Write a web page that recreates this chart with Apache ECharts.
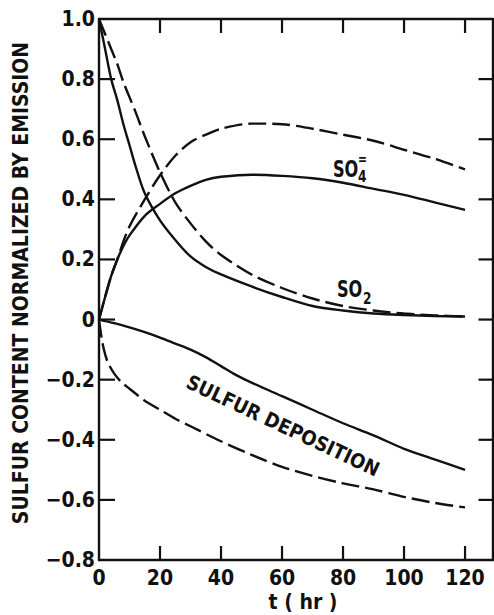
<!DOCTYPE html>
<html><head><meta charset="utf-8">
<script src="https://cdn.jsdelivr.net/npm/echarts@6/dist/echarts.min.js"></script>
<style>html,body{margin:0;padding:0;background:#fff}#c{width:494px;height:615px}</style>
</head><body><div id="c"></div>
<script>
// ---- data (t in hours, values normalized by emission) ----
const xTicks = [0, 20, 40, 60, 80, 100, 120];
const yTicks = [-0.8, -0.6, -0.4, -0.2, 0, 0.2, 0.4, 0.6, 0.8, 1.0];

const tSO2 = [0, 2, 4, 6, 8, 10, 12, 15, 20, 25, 30, 35, 40, 50, 60, 70, 80, 90, 100, 110, 120];
const so2Solid  = [1.0, 0.90, 0.80, 0.73, 0.65, 0.58, 0.51, 0.42, 0.33, 0.265, 0.21, 0.175, 0.15, 0.11, 0.075, 0.045, 0.03, 0.02, 0.015, 0.012, 0.01];
const so2Dashed = [1.0, 0.95, 0.90, 0.85, 0.79, 0.74, 0.69, 0.61, 0.49, 0.39, 0.32, 0.26, 0.215, 0.15, 0.105, 0.07, 0.045, 0.03, 0.02, 0.014, 0.01];

const tSO4 = [0, 2, 4, 6, 8, 10, 15, 20, 25, 30, 35, 40, 50, 60, 70, 80, 90, 100, 110, 120];
const so4Solid  = [0, 0.075, 0.145, 0.20, 0.245, 0.28, 0.345, 0.385, 0.42, 0.445, 0.465, 0.475, 0.482, 0.478, 0.47, 0.455, 0.435, 0.415, 0.39, 0.365];
const so4Dashed = [0, 0.075, 0.145, 0.20, 0.26, 0.31, 0.40, 0.48, 0.545, 0.59, 0.615, 0.635, 0.652, 0.65, 0.635, 0.615, 0.595, 0.565, 0.535, 0.50];

const tDepSolid = [0, 5, 10, 15, 20, 25, 30, 35, 40, 45, 50, 60, 70, 80, 90, 100, 110, 120];
const depSolid  = [0, -0.012, -0.026, -0.042, -0.06, -0.08, -0.10, -0.125, -0.155, -0.185, -0.21, -0.255, -0.30, -0.345, -0.385, -0.43, -0.465, -0.50];

const tDepDashed = [0, 1, 2, 3, 5, 7.5, 10, 15, 20, 25, 30, 40, 50, 60, 70, 80, 90, 100, 110, 120];
const depDashed  = [0, -0.07, -0.115, -0.145, -0.18, -0.21, -0.23, -0.27, -0.30, -0.33, -0.355, -0.405, -0.45, -0.49, -0.52, -0.545, -0.565, -0.59, -0.61, -0.625];

// ---- helpers ----
const pairs = (t, v) => t.map((x, i) => [x, v[i]]);
const FONT = '"DejaVu Sans Condensed", "DejaVu Sans", sans-serif';
const INK = '#111';
const X_MAX = 129, Y_MIN = -0.8, Y_MAX = 1.0;

const chart = echarts.init(document.getElementById('c'), null, {renderer: 'svg'});

function lineSeries(data, dashed) {
  return {
    type: 'line', data: data, smooth: 0.3, symbol: 'none', silent: true,
    xAxisIndex: 0, yAxisIndex: 0,
    lineStyle: {color: INK, width: 2.4, type: dashed ? [18, 6] : 'solid'}
  };
}

const axisLine = () => ({show: true, onZero: false, lineStyle: {color: INK, width: 2.4}});

const option = {
  animation: false,
  grid: {left: 99, right: 1.5, top: 19, bottom: 55, containLabel: false, outerBoundsMode: 'none'},
  xAxis: [
    {type: 'value', min: 0, max: X_MAX, position: 'bottom',
     axisLine: axisLine(), axisTick: {show: false},
     axisLabel: {show: true, customValues: xTicks, color: INK, fontFamily: FONT, fontWeight: 'bold', fontSize: 21, margin: 7},
     splitLine: {show: false}},
    {type: 'value', min: 0, max: X_MAX, position: 'top',
     axisLine: axisLine(), axisTick: {show: false},
     axisLabel: {show: false}, splitLine: {show: false}}
  ],
  yAxis: [
    {type: 'value', min: Y_MIN, max: Y_MAX, interval: 0.2, position: 'left',
     axisLine: axisLine(), axisTick: {show: false},
     axisLabel: {color: INK, fontFamily: FONT, fontWeight: 'bold', fontSize: 21, margin: 4,
       formatter: v => Math.abs(v) < 1e-9 ? '0' : (v < 0 ? '\u2212' + Math.abs(v).toFixed(1) : v.toFixed(1))},
     splitLine: {show: false}},
    {type: 'value', min: Y_MIN, max: Y_MAX, interval: 0.2, position: 'right',
     axisLine: axisLine(), axisTick: {show: false},
     axisLabel: {show: false}, splitLine: {show: false}}
  ],
  series: [
    lineSeries(pairs(tSO2, so2Solid), false),
    lineSeries(pairs(tSO2, so2Dashed), true),
    lineSeries(pairs(tSO4, so4Solid), false),
    lineSeries(pairs(tSO4, so4Dashed), true),
    lineSeries(pairs(tDepSolid, depSolid), false),
    lineSeries(pairs(tDepDashed, depDashed), true)
  ]
};
chart.setOption(option);

// ---- inward tick marks and annotations, placed through the chart's own scales ----
const P = (t, v) => chart.convertToPixel({gridIndex: 0}, [t, v]);
const TW = 2.2;
const vTick = (a, len) => ({type: 'rect', silent: true, z: 50,
  shape: {x: a[0] - TW / 2, y: len < 0 ? a[1] + len : a[1], width: TW, height: Math.abs(len)},
  style: {fill: INK}});
const hTick = (a, len) => ({type: 'rect', silent: true, z: 50,
  shape: {x: len < 0 ? a[0] + len : a[0], y: a[1] - TW / 2, width: Math.abs(len), height: TW},
  style: {fill: INK}});

const ticks = [];
xTicks.forEach(t => {
  if (t > 0) {
    ticks.push(vTick(P(t, Y_MIN), -14));
    ticks.push(vTick(P(t, Y_MAX), 14));
  }
});
yTicks.forEach(v => {
  if (v > Y_MIN + 1e-9 && v < Y_MAX - 1e-9) {
    ticks.push(hTick(P(0, v), 16));
    ticks.push(hTick(P(X_MAX, v), -14));
  }
});

const txt = (pos, text, size, sx) => ({
  type: 'text', x: pos[0], y: pos[1], silent: true, scaleX: sx || 1, z: 50,
  style: {text: text, fill: INK, font: `bold ${size}px ${FONT}`, textAlign: 'left', textVerticalAlign: 'middle'}
});

const so4 = P(76.7, 0.50);
const so2 = P(78.0, 0.10);
const dep = P(60.3, -0.353);

chart.setOption({
  graphic: ticks.concat([
    txt(so4, 'SO', 23, 0.78),
    txt([so4[0] + 25, so4[1] + 7], '4', 16, 0.85),
    txt([so4[0] + 25, so4[1] - 10], '=', 14, 0.85),
    txt(so2, 'SO', 23, 0.78),
    txt([so2[0] + 26, so2[1] + 9], '2', 16, 0.85),
    {type: 'text', x: dep[0], y: dep[1], rotation: -25.2 * Math.PI / 180, silent: true, z: 50,
     style: {text: 'SULFUR DEPOSITION', fill: INK, font: `bold 20px ${FONT}`, textAlign: 'center', textVerticalAlign: 'middle'}},
    {type: 'text', x: 21, y: 283, rotation: Math.PI / 2, silent: true, z: 50,
     style: {text: 'SULFUR CONTENT NORMALIZED BY EMISSION', fill: INK, font: `bold 21px ${FONT}`, textAlign: 'center', textVerticalAlign: 'middle'}},
    {type: 'text', x: 303, y: 602, silent: true, z: 50,
     style: {text: 't ( hr )', fill: INK, font: `bold 21px ${FONT}`, textAlign: 'center', textVerticalAlign: 'middle'}}
  ])
});
</script>
</body></html>
